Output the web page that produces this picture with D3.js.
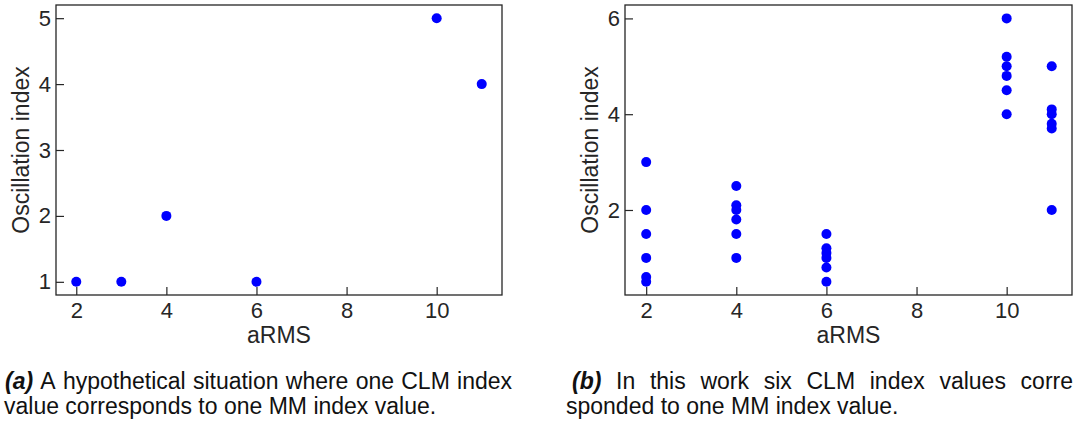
<!DOCTYPE html>
<html>
<head>
<meta charset="utf-8">
<script src="https://cdn.jsdelivr.net/npm/d3@7"></script>
<style>
  body { margin: 0; background: #fff; }
  svg { display: block; font-family: "Liberation Sans", Arial, sans-serif; }
</style>
</head>
<body>
<svg id="chart" width="1074" height="425"></svg>
<script>
// panel (a): hypothetical, one CLM value per MM value
const aX = [2, 3, 4, 6, 10, 11];
const aY = [1, 1, 2, 1, 5, 4];

// panel (b): six CLM values for each MM value
const bGroups = [2, 4, 6, 10, 11];
const bValues = [
    [3, 2, 1.5, 1, 0.6, 0.5],
    [2.5, 2.1, 2.0, 1.8, 1.5, 1.0],
    [1.5, 1.2, 1.1, 1.0, 0.8, 0.5],
    [6, 5.2, 5.0, 4.8, 4.5, 4.0],
    [5.0, 4.1, 4.0, 3.8, 3.7, 2.0]
];

const xTicks = [2, 4, 6, 8, 10];
const aYTicks = [1, 2, 3, 4, 5];
const bYTicks = [2, 4, 6];

const xLabel = "aRMS";
const yLabel = "Oscillation index";

const captionA = ["(a)", "A hypothetical situation where one CLM index", "value corresponds to one MM index value."];
const captionB = ["(b)", "In this work six CLM index values corre", "sponded to one MM index value."];

const ink = "#262626";
const dotColor = "#0000ff";

const svg = d3.select("#chart");

function panel(left, right, xDomain, yDomain, yTicks, points) {
    const top = 5, bottom = 295;

    let x = d3.scaleLinear().domain(xDomain).range([left, right]);
    let y = d3.scaleLinear().domain(yDomain).range([bottom, top]);

    const g = svg.append("g");

    let xAxis = g.append("g")
        .attr("transform", `translate(0,${bottom})`)
        .call(d3.axisBottom(x).tickValues(xTicks).tickFormat(d3.format("d"))
            .tickSize(-8).tickSizeOuter(0).tickPadding(7));
    let yAxis = g.append("g")
        .attr("transform", `translate(${left},0)`)
        .call(d3.axisLeft(y).tickValues(yTicks).tickFormat(d3.format("d"))
            .tickSize(-8).tickSizeOuter(0).tickPadding(5));

    [xAxis, yAxis].forEach(ax => {
        ax.select(".domain").remove();
        ax.selectAll("line").attr("stroke", ink).attr("stroke-width", 1.2);
        ax.selectAll("text").attr("fill", ink).style("font-size", "22px")
            .style("font-family", "'Liberation Sans', Arial, sans-serif");
    });

    // box round the plot
    g.append("rect")
        .attr("x", left).attr("y", top)
        .attr("width", right - left).attr("height", bottom - top)
        .attr("fill", "none").attr("stroke", ink).attr("stroke-width", 1.3);

    g.selectAll("circle")
        .data(points)
        .join("circle")
        .attr("cx", d => x(d[0]))
        .attr("cy", d => y(d[1]))
        .attr("r", 5)
        .attr("fill", dotColor);

    g.append("text")
        .attr("x", (left + right) / 2)
        .attr("y", 343)
        .attr("text-anchor", "middle")
        .attr("fill", ink)
        .style("font-size", "23px")
        .text(xLabel);

    g.append("text")
        .attr("transform", `translate(${left - 27},${(top + bottom) / 2}) rotate(-90)`)
        .attr("text-anchor", "middle")
        .attr("fill", ink)
        .style("font-size", "23px")
        .text(yLabel);
}

panel(56, 502, [1.55, 11.45], [0.8, 5.2], aYTicks, aX.map((v, i) => [v, aY[i]]));
panel(625, 1072, [1.53, 11.45], [0.225, 6.28], bYTicks,
    bGroups.flatMap((g, i) => bValues[i].map(v => [g, v])));

// captions, first line justified word by word
function caption(x0, x1, x2, lines) {
    const words = [lines[0]].concat(lines[1].split(" "));
    const t = svg.append("text").attr("y", 389).attr("fill", "#111").style("font-size", "23px");
    const spans = words.map((w, i) => t.append("tspan")
        .style("font-weight", i === 0 ? "bold" : "normal")
        .style("font-style", i === 0 ? "italic" : "normal")
        .text(w));
    const widths = spans.map(s => s.node().getComputedTextLength());
    const gap = (x1 - x0 - d3.sum(widths)) / (words.length - 1);
    let cx = x0;
    spans.forEach((s, i) => { s.attr("x", cx); cx += widths[i] + gap; });

    svg.append("text")
        .attr("x", x2).attr("y", 414)
        .attr("fill", "#111")
        .style("font-size", "23px")
        .text(lines[2]);
}

caption(5, 512, 4, captionA);
caption(572, 1073, 566, captionB);
</script>
</body>
</html>
